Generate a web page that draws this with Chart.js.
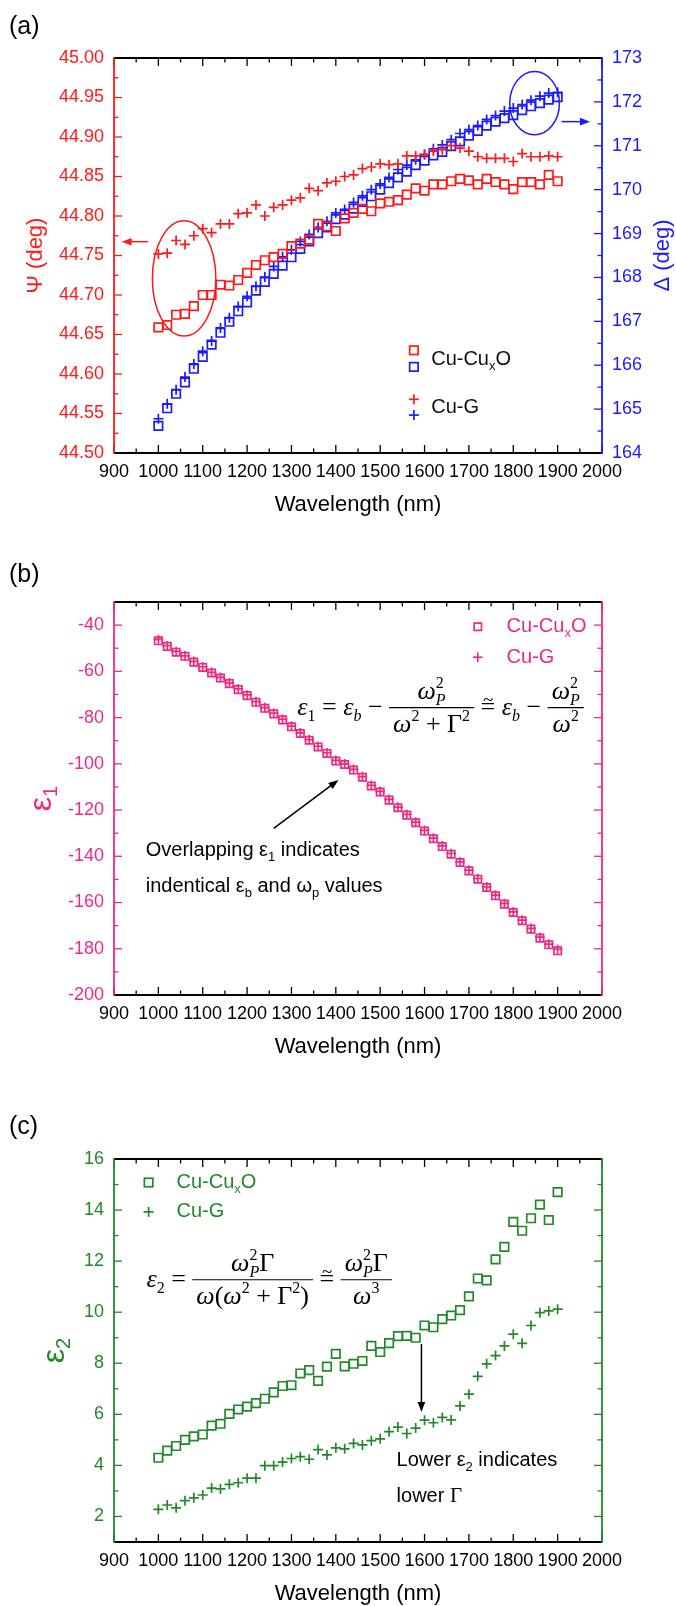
<!DOCTYPE html>
<html lang="en">
<head>
  <meta charset="UTF-8" />
  <title>Cu-CuxO vs Cu-G ellipsometry</title>
  <script src="https://cdn.jsdelivr.net/npm/chart.js"></script>
  <style>
    html, body {
      margin: 0;
      background: #fff;
    }

    body {
      position: relative;
      width: 676px;
      height: 1606px;
      overflow: hidden;
    }

    canvas {
      position: absolute;
      left: 0;
    }

    #chartA { top: 0; }
    #chartB { top: 540px; }
    #chartC { top: 1095px; }
  </style>
</head>
<body>
  <canvas id="chartA" width="676" height="540"></canvas>
  <canvas id="chartB" width="676" height="555"></canvas>
  <canvas id="chartC" width="676" height="511"></canvas>

  <script>
    // data
    const wavelengths = [1000, 1020, 1040, 1060, 1080, 1100, 1120, 1140, 1160, 1180,
      1200, 1220, 1240, 1260, 1280, 1300, 1320, 1340, 1360, 1380,
      1400, 1420, 1440, 1460, 1480, 1500, 1520, 1540, 1560, 1580,
      1600, 1620, 1640, 1660, 1680, 1700, 1720, 1740, 1760, 1780,
      1800, 1820, 1840, 1860, 1880, 1900];

    const psiCuO = [44.659, 44.662, 44.675, 44.676, 44.686, 44.700, 44.700, 44.713, 44.712, 44.719,
      44.728, 44.738, 44.744, 44.748, 44.752, 44.762, 44.765, 44.770, 44.790, 44.787,
      44.781, 44.797, 44.804, 44.809, 44.806, 44.816, 44.818, 44.820, 44.827, 44.835,
      44.832, 44.840, 44.840, 44.844, 44.847, 44.845, 44.840, 44.847, 44.843, 44.840,
      44.834, 44.843, 44.843, 44.840, 44.852, 44.844];
    const psiCuG = [44.752, 44.753, 44.769, 44.764, 44.775, 44.784, 44.779, 44.790, 44.790, 44.803,
      44.804, 44.814, 44.800, 44.811, 44.814, 44.820, 44.823, 44.835, 44.832, 44.842,
      44.844, 44.850, 44.852, 44.860, 44.862, 44.866, 44.865, 44.866, 44.876, 44.876,
      44.878, 44.882, 44.884, 44.889, 44.886, 44.882, 44.875, 44.873, 44.873, 44.873,
      44.869, 44.879, 44.875, 44.875, 44.876, 44.875];
    const deltaCuO = [164.62, 165.02, 165.35, 165.61, 165.92, 166.19, 166.47, 166.74, 166.99, 167.23,
      167.43, 167.70, 167.90, 168.08, 168.27, 168.46, 168.65, 168.82, 169.01, 169.14,
      169.33, 169.43, 169.57, 169.72, 169.85, 170.00, 170.15, 170.28, 170.41, 170.56,
      170.66, 170.78, 170.86, 170.99, 171.10, 171.23, 171.34, 171.46, 171.55, 171.63,
      171.70, 171.81, 171.90, 171.97, 172.05, 172.11];
    const deltaCuG = [164.78, 165.12, 165.44, 165.73, 166.03, 166.32, 166.55, 166.85, 167.08, 167.34,
      167.57, 167.80, 168.01, 168.25, 168.47, 168.63, 168.82, 168.98, 169.14, 169.28,
      169.47, 169.55, 169.71, 169.86, 170.00, 170.13, 170.28, 170.46, 170.56, 170.68,
      170.80, 170.93, 171.02, 171.14, 171.28, 171.37, 171.46, 171.60, 171.69, 171.79,
      171.86, 171.94, 172.04, 172.13, 172.20, 172.22];

    const eps1CuO = [-46.8, -49.2, -51.7, -53.5, -56.0, -58.3, -60.7, -62.9, -65.3, -67.9,
      -70.5, -73.4, -76.0, -78.4, -81.0, -84.0, -86.9, -89.8, -92.7, -95.5,
      -98.8, -100.3, -102.7, -105.8, -109.6, -112.2, -115.7, -119.0, -122.2, -125.5,
      -129.1, -132.4, -135.8, -139.1, -142.7, -146.3, -149.9, -153.5, -157.1, -160.7,
      -164.3, -167.9, -171.5, -175.4, -178.3, -180.9];
    const eps1CuG = [-46.2, -48.9, -51.4, -53.3, -55.7, -58.0, -60.4, -62.6, -65.0, -67.6,
      -70.2, -73.1, -75.7, -78.1, -80.7, -83.7, -86.6, -89.5, -92.4, -95.2,
      -98.5, -100.0, -102.4, -105.5, -109.3, -111.9, -115.4, -118.7, -121.9, -125.2,
      -128.8, -132.1, -135.5, -138.8, -142.4, -146.0, -149.6, -153.2, -156.8, -160.4,
      -164.0, -167.6, -171.2, -175.0, -178.0, -180.2];

    const eps2CuO = [4.30, 4.58, 4.76, 5.00, 5.14, 5.21, 5.56, 5.63, 6.02, 6.19,
      6.30, 6.44, 6.61, 6.86, 7.11, 7.14, 7.60, 7.73, 7.31, 7.87,
      8.37, 7.88, 7.98, 8.09, 8.68, 8.44, 8.79, 9.06, 9.07, 9.00,
      9.48, 9.41, 9.73, 9.87, 10.08, 10.62, 11.32, 11.25, 12.07, 12.56,
      13.54, 13.19, 13.68, 14.21, 13.61, 14.70];
    const eps2CuG = [2.28, 2.45, 2.34, 2.62, 2.73, 2.84, 3.11, 3.08, 3.26, 3.32,
      3.50, 3.50, 3.99, 3.99, 4.13, 4.27, 4.34, 4.24, 4.62, 4.41,
      4.69, 4.65, 4.86, 4.80, 4.97, 5.04, 5.32, 5.50, 5.25, 5.46,
      5.77, 5.67, 5.88, 5.78, 6.33, 6.79, 7.49, 7.98, 8.30, 8.68,
      9.14, 8.78, 9.48, 9.98, 10.05, 10.12];

    // ticks
    const xTicks = [900, 1000, 1100, 1200, 1300, 1400, 1500, 1600, 1700, 1800, 1900, 2000];
    const xMinor = [950, 1050, 1150, 1250, 1350, 1450, 1550, 1650, 1750, 1850, 1950];
    const psiTicks = [44.50, 44.55, 44.60, 44.65, 44.70, 44.75, 44.80, 44.85, 44.90, 44.95, 45.00];
    const psiMinor = [44.525, 44.575, 44.625, 44.675, 44.725, 44.775, 44.825, 44.875, 44.925, 44.975];
    const deltaTicks = [164, 165, 166, 167, 168, 169, 170, 171, 172, 173];
    const deltaMinor = [164.5, 165.5, 166.5, 167.5, 168.5, 169.5, 170.5, 171.5, 172.5];
    const eps1Ticks = [-200, -180, -160, -140, -120, -100, -80, -60, -40];
    const eps1Minor = [-190, -170, -150, -130, -110, -90, -70, -50];
    const eps2Ticks = [2, 4, 6, 8, 10, 12, 14, 16];
    const eps2Minor = [3, 5, 7, 9, 11, 13, 15];

    const SANS = '"Liberation Sans", Arial, sans-serif';
    const SERIF = '"Liberation Serif", "Times New Roman", "DejaVu Serif", serif';
    const RED = '#ff1a1a', BLUE = '#1a1aff', PINK = '#ee2a7f', GREEN = '#22882a';

    function pts(ys) {
      return wavelengths.map((x, i) => ({ x: x, y: ys[i] }));
    }

    function series(label, ys, color, style, radius, axis) {
      return {
        label: label,
        data: pts(ys),
        yAxisID: axis,
        showLine: false,
        pointStyle: style,
        pointRadius: radius,
        pointHoverRadius: radius,
        borderColor: color,
        backgroundColor: 'rgba(0,0,0,0)',
        pointBorderWidth: 1.7,
        borderWidth: 1.7
      };
    }

    function line(ctx, x1, y1, x2, y2) {
      ctx.beginPath();
      ctx.moveTo(x1, y1);
      ctx.lineTo(x2, y2);
      ctx.stroke();
    }

    function arrow(ctx, x1, y1, x2, y2, color) {
      const a = Math.atan2(y2 - y1, x2 - x1), c = Math.cos(a), s = Math.sin(a);
      const L = 10, W = 3.8;
      ctx.strokeStyle = color;
      ctx.fillStyle = color;
      ctx.lineWidth = 1.5;
      line(ctx, x1, y1, x2 - c * L * 0.7, y2 - s * L * 0.7);
      ctx.beginPath();
      ctx.moveTo(x2, y2);
      ctx.lineTo(x2 - L * c + W * s, y2 - L * s - W * c);
      ctx.lineTo(x2 - L * c - W * s, y2 - L * s + W * c);
      ctx.closePath();
      ctx.fill();
    }

    function marker(ctx, style, x, y, r, color) {
      ctx.strokeStyle = color;
      ctx.lineWidth = 1.7;
      if (style === 'rect') {
        const h = r * Math.SQRT1_2;
        ctx.strokeRect(x - h, y - h, 2 * h, 2 * h);
      } else {
        line(ctx, x - r, y, x + r, y);
        line(ctx, x, y - r, x, y + r);
      }
    }

    // text runs: {t, f, dy, dx, adv}, or {frac: {num, den}}
    function measure(ctx, list) {
      let w = 0;
      for (const r of list) {
        if (r.frac) { w += fracWidth(ctx, r.frac); continue; }
        if (r.adv === false) continue;
        ctx.font = r.f;
        w += ctx.measureText(r.t).width;
      }
      return w;
    }

    function fracWidth(ctx, fr) {
      return Math.max(measure(ctx, fr.num), measure(ctx, fr.den)) + 8;
    }

    function drawRuns(ctx, x, y, list) {
      for (const r of list) {
        if (r.frac) {
          const w = fracWidth(ctx, r.frac), bar = y - 7;
          ctx.lineWidth = 1.2;
          ctx.strokeStyle = ctx.fillStyle;
          line(ctx, x, bar, x + w, bar);
          drawRuns(ctx, x + (w - measure(ctx, r.frac.num)) / 2, bar - 9, r.frac.num);
          drawRuns(ctx, x + (w - measure(ctx, r.frac.den)) / 2, bar + 24, r.frac.den);
          x += w;
          continue;
        }
        ctx.font = r.f;
        ctx.fillText(r.t, x + (r.dx || 0), y + (r.dy || 0));
        if (r.adv !== false) x += ctx.measureText(r.t).width;
      }
      return x;
    }

    function rotated(ctx, x, y, list, color) {
      ctx.save();
      ctx.translate(x, y);
      ctx.rotate(-Math.PI / 2);
      ctx.fillStyle = color;
      ctx.textAlign = 'left';
      ctx.textBaseline = 'alphabetic';
      drawRuns(ctx, -measure(ctx, list) / 2, 0, list);
      ctx.restore();
    }

    function legendText(ctx, x, y, main, color) {
      ctx.fillStyle = color;
      ctx.textAlign = 'left';
      ctx.textBaseline = 'middle';
      const f = '20px ' + SANS, fs = '13px ' + SANS;
      if (main === 'Cu-CuxO') {
        drawRuns(ctx, x, y, [{ t: 'Cu-Cu', f: f }, { t: 'x', f: fs, dy: 7 }, { t: 'O', f: f }]);
      } else {
        drawRuns(ctx, x, y, [{ t: main, f: f }]);
      }
    }

    function drawFrame(chart, cfg) {
      const ctx = chart.ctx, a = chart.chartArea, xs = chart.scales.x;
      const sides = [[cfg.left, chart.scales[cfg.left.axis], a.left, 1],
                     [cfg.right, chart.scales[cfg.right.axis], a.right, -1]];
      ctx.save();
      ctx.lineWidth = 1.3;
      ctx.strokeStyle = '#000';
      xTicks.forEach(v => {
        const p = xs.getPixelForValue(v);
        line(ctx, p, a.bottom, p, a.bottom - 8);
        line(ctx, p, a.top, p, a.top + 8);
      });
      xMinor.forEach(v => {
        const p = xs.getPixelForValue(v);
        line(ctx, p, a.bottom, p, a.bottom - 4.5);
        line(ctx, p, a.top, p, a.top + 4.5);
      });
      sides.forEach(([s, sc, x0, dir]) => {
        ctx.strokeStyle = s.color;
        s.major.forEach(v => { const p = sc.getPixelForValue(v); line(ctx, x0, p, x0 + dir * 8, p); });
        s.minor.forEach(v => { const p = sc.getPixelForValue(v); line(ctx, x0, p, x0 + dir * 4.5, p); });
      });

      ctx.lineWidth = 1.8;
      ctx.strokeStyle = '#000';
      line(ctx, a.left, a.top, a.right, a.top);
      line(ctx, a.left, a.bottom, a.right, a.bottom);
      ctx.strokeStyle = cfg.left.color;
      line(ctx, a.left, a.top - 0.9, a.left, a.bottom + 0.9);
      ctx.strokeStyle = cfg.right.color;
      line(ctx, a.right, a.top - 0.9, a.right, a.bottom + 0.9);

      ctx.font = '18px ' + SANS;
      ctx.textBaseline = 'middle';
      ctx.textAlign = 'center';
      ctx.fillStyle = '#000';
      xTicks.forEach(v => ctx.fillText(String(v), xs.getPixelForValue(v), a.bottom + 19));
      sides.forEach(([s, sc, x0, dir]) => {
        if (!s.fmt) return;
        ctx.fillStyle = s.color;
        ctx.textAlign = dir > 0 ? 'right' : 'left';
        s.major.forEach(v => ctx.fillText(s.fmt(v), x0 - dir * 10, sc.getPixelForValue(v)));
      });

      ctx.fillStyle = '#000';
      ctx.textAlign = 'center';
      ctx.font = '22px ' + SANS;
      ctx.fillText('Wavelength (nm)', (a.left + a.right) / 2, a.bottom + 52);
      ctx.textAlign = 'left';
      ctx.font = '25px ' + SANS;
      ctx.fillText(cfg.letter, 9, cfg.letterY);
      ctx.restore();
    }

    function baseOptions(padding, yScales) {
      return {
        responsive: false,
        animation: false,
        events: [],
        layout: { padding: padding },
        plugins: { legend: { display: false }, tooltip: { enabled: false } },
        scales: Object.assign({ x: { type: 'linear', display: false, min: 900, max: 2000 } }, yScales)
      };
    }

    // serif formula pieces
    const F = 26;
    const fIt = 'italic ' + F + 'px ' + SERIF, fUp = F + 'px ' + SERIF;
    const fSm = '16px ' + SERIF, fSmIt = 'italic 16px ' + SERIF;
    const omegaP2 = [{ t: 'ω', f: fIt }, { t: '2', f: fSm, dy: -11, adv: false }, { t: 'P', f: fSmIt, dy: 6 }];
    const sq = { t: '2', f: fSm, dy: -11 };
    // "≅" built from a tilde over an equals sign, thin like the Times glyph
    const approxEq = [{ t: ' ', f: fUp }, { t: '~', f: '19px ' + SERIF, dy: -9, dx: 2.5, adv: false },
      { t: '=', f: fUp }, { t: ' ', f: fUp }];

    // ---------- (a) ----------
    new Chart(document.getElementById('chartA'), {
      type: 'scatter',
      data: {
        datasets: [
          series('Cu-CuxO Ψ', psiCuO, RED, 'rect', 6, 'yL'),
          series('Cu-G Ψ', psiCuG, RED, 'cross', 5, 'yL'),
          series('Cu-CuxO Δ', deltaCuO, BLUE, 'rect', 6, 'yR'),
          series('Cu-G Δ', deltaCuG, BLUE, 'cross', 5, 'yR')
        ]
      },
      options: baseOptions({ left: 114, right: 74, top: 58, bottom: 87 }, {
        yL: { type: 'linear', display: false, position: 'left', min: 44.5, max: 45.0 },
        yR: { type: 'linear', display: false, position: 'right', min: 164, max: 173 }
      }),
      plugins: [{
        id: 'panelA',
        afterDraw(chart) {
          drawFrame(chart, {
            left: { axis: 'yL', color: RED, major: psiTicks, minor: psiMinor, fmt: v => v.toFixed(2) },
            right: { axis: 'yR', color: BLUE, major: deltaTicks, minor: deltaMinor, fmt: v => String(v) },
            letter: '(a)', letterY: 27
          });
          const ctx = chart.ctx, a = chart.chartArea, xs = chart.scales.x;
          const yl = chart.scales.yL, yr = chart.scales.yR;
          const mid = (a.top + a.bottom) / 2;
          ctx.save();
          rotated(ctx, 42, mid, [{ t: 'Ψ (deg)', f: '22px ' + SANS }], RED);
          rotated(ctx, 669, mid, [{ t: 'Δ (deg)', f: '22px ' + SANS }], BLUE);

          const mx = xs.getPixelForValue(1576), tx = xs.getPixelForValue(1615);
          marker(ctx, 'rect', mx, yl.getPixelForValue(44.630), 6, RED);
          marker(ctx, 'rect', mx, yl.getPixelForValue(44.609), 6, BLUE);
          marker(ctx, 'cross', mx, yl.getPixelForValue(44.568), 5, RED);
          marker(ctx, 'cross', mx, yl.getPixelForValue(44.548), 5, BLUE);
          legendText(ctx, tx, yl.getPixelForValue(44.619), 'Cu-CuxO', '#111');
          legendText(ctx, tx, yl.getPixelForValue(44.558), 'Cu-G', '#111');

          ctx.lineWidth = 1.5;
          ctx.strokeStyle = RED;
          ctx.beginPath();
          ctx.ellipse(xs.getPixelForValue(1058), yl.getPixelForValue(44.721),
            xs.getPixelForValue(1129.5) - xs.getPixelForValue(1058),
            yl.getPixelForValue(44.648) - yl.getPixelForValue(44.721), 0, 0, Math.PI * 2);
          ctx.stroke();
          arrow(ctx, xs.getPixelForValue(977), yl.getPixelForValue(44.7675),
            xs.getPixelForValue(917), yl.getPixelForValue(44.7675), RED);

          ctx.lineWidth = 1.5;
          ctx.strokeStyle = BLUE;
          ctx.beginPath();
          ctx.ellipse(xs.getPixelForValue(1848), yr.getPixelForValue(171.97),
            xs.getPixelForValue(1904) - xs.getPixelForValue(1848),
            yr.getPixelForValue(171.25) - yr.getPixelForValue(171.97), 0, 0, Math.PI * 2);
          ctx.stroke();
          arrow(ctx, xs.getPixelForValue(1909), yr.getPixelForValue(171.55),
            xs.getPixelForValue(1973), yr.getPixelForValue(171.55), BLUE);
          ctx.restore();
        }
      }]
    });

    // ---------- (b) ----------
    new Chart(document.getElementById('chartB'), {
      type: 'scatter',
      data: {
        datasets: [
          series('Cu-CuxO', eps1CuO, PINK, 'rect', 5.2, 'y'),
          series('Cu-G', eps1CuG, PINK, 'cross', 4.8, 'y')
        ]
      },
      options: baseOptions({ left: 114, right: 74, top: 62, bottom: 100 }, {
        y: { type: 'linear', display: false, min: -200, max: -30 }
      }),
      plugins: [{
        id: 'panelB',
        afterDraw(chart) {
          drawFrame(chart, {
            left: { axis: 'y', color: PINK, major: eps1Ticks, minor: eps1Minor, fmt: v => String(v) },
            right: { axis: 'y', color: PINK, major: eps1Ticks, minor: eps1Minor, fmt: null },
            letter: '(b)', letterY: 35
          });
          const ctx = chart.ctx, a = chart.chartArea, xs = chart.scales.x, ys = chart.scales.y;
          ctx.save();
          rotated(ctx, 51, (a.top + a.bottom) / 2,
            [{ t: 'ε', f: '32px ' + SANS }, { t: '1', f: '20px ' + SANS, dy: 6 }], PINK);

          const mx = xs.getPixelForValue(1720), tx = xs.getPixelForValue(1785);
          marker(ctx, 'rect', mx, ys.getPixelForValue(-40.7), 5.2, PINK);
          marker(ctx, 'cross', mx, ys.getPixelForValue(-53.9), 4.8, PINK);
          legendText(ctx, tx, ys.getPixelForValue(-40.7), 'Cu-CuxO', PINK);
          legendText(ctx, tx, ys.getPixelForValue(-53.9), 'Cu-G', PINK);

          ctx.fillStyle = '#000';
          ctx.textAlign = 'left';
          ctx.textBaseline = 'alphabetic';
          drawRuns(ctx, xs.getPixelForValue(1313), ys.getPixelForValue(-75.7) + 7, [
            { t: 'ε', f: fIt }, { t: '1', f: fSm, dy: 6 }, { t: ' = ', f: fUp },
            { t: 'ε', f: fIt }, { t: 'b', f: fSmIt, dy: 6 }, { t: ' − ', f: fUp },
            { frac: { num: omegaP2, den: [{ t: 'ω', f: fIt }, sq, { t: ' + ', f: fUp }, { t: 'Γ', f: fUp }, sq] } }
          ].concat(approxEq, [
            { t: 'ε', f: fIt }, { t: 'b', f: fSmIt, dy: 6 }, { t: ' − ', f: fUp },
            { frac: { num: omegaP2, den: [{ t: 'ω', f: fIt }, sq] } }
          ]));

          arrow(ctx, xs.getPixelForValue(1260), ys.getPixelForValue(-127.9),
            xs.getPixelForValue(1406), ys.getPixelForValue(-107.0), '#000');

          const f = '20px ' + SANS, fs = '13px ' + SANS;
          ctx.fillStyle = '#000';
          ctx.textBaseline = 'middle';
          const tl = xs.getPixelForValue(971.5);
          drawRuns(ctx, tl, ys.getPixelForValue(-137.3), [
            { t: 'Overlapping ', f: f }, { t: 'ε', f: f }, { t: '1', f: fs, dy: 7 }, { t: ' indicates', f: f }
          ]);
          drawRuns(ctx, tl, ys.getPixelForValue(-153.1), [
            { t: 'indentical ', f: f }, { t: 'ε', f: f }, { t: 'b', f: fs, dy: 7 }, { t: ' and ', f: f },
            { t: 'ω', f: f }, { t: 'p', f: fs, dy: 7 }, { t: ' values', f: f }
          ]);
          ctx.restore();
        }
      }]
    });

    // ---------- (c) ----------
    new Chart(document.getElementById('chartC'), {
      type: 'scatter',
      data: {
        datasets: [
          series('Cu-CuxO', eps2CuO, GREEN, 'rect', 6, 'y'),
          series('Cu-G', eps2CuG, GREEN, 'cross', 5, 'y')
        ]
      },
      options: baseOptions({ left: 114, right: 74, top: 64, bottom: 64 }, {
        y: { type: 'linear', display: false, min: 1, max: 16 }
      }),
      plugins: [{
        id: 'panelC',
        afterDraw(chart) {
          drawFrame(chart, {
            left: { axis: 'y', color: GREEN, major: eps2Ticks, minor: eps2Minor, fmt: v => String(v) },
            right: { axis: 'y', color: GREEN, major: eps2Ticks, minor: eps2Minor, fmt: null },
            letter: '(c)', letterY: 32
          });
          const ctx = chart.ctx, a = chart.chartArea, xs = chart.scales.x, ys = chart.scales.y;
          ctx.save();
          rotated(ctx, 64, (a.top + a.bottom) / 2,
            [{ t: 'ε', f: '32px ' + SANS }, { t: '2', f: '20px ' + SANS, dy: 6 }], GREEN);

          const mx = xs.getPixelForValue(978), tx = xs.getPixelForValue(1041);
          marker(ctx, 'rect', mx, ys.getPixelForValue(15.08), 6, GREEN);
          marker(ctx, 'cross', mx, ys.getPixelForValue(13.93), 5, GREEN);
          legendText(ctx, tx, ys.getPixelForValue(15.08), 'Cu-CuxO', GREEN);
          legendText(ctx, tx, ys.getPixelForValue(13.93), 'Cu-G', GREEN);

          const numG = omegaP2.concat([{ t: 'Γ', f: fUp }]);
          ctx.fillStyle = '#000';
          ctx.textAlign = 'left';
          ctx.textBaseline = 'alphabetic';
          drawRuns(ctx, xs.getPixelForValue(973), ys.getPixelForValue(11.27) + 7, [
            { t: 'ε', f: fIt }, { t: '2', f: fSm, dy: 6 }, { t: ' = ', f: fUp },
            { frac: { num: numG, den: [{ t: 'ω', f: fIt }, { t: '(', f: fUp }, { t: 'ω', f: fIt }, sq,
              { t: ' + ', f: fUp }, { t: 'Γ', f: fUp }, sq, { t: ')', f: fUp }] } }
          ].concat(approxEq, [
            { frac: { num: numG, den: [{ t: 'ω', f: fIt }, { t: '3', f: fSm, dy: -11 }] } }
          ]));

          arrow(ctx, xs.getPixelForValue(1593), ys.getPixelForValue(8.75),
            xs.getPixelForValue(1593), ys.getPixelForValue(6.09), '#000');

          const f = '20px ' + SANS, fs = '13px ' + SANS;
          ctx.fillStyle = '#000';
          ctx.textBaseline = 'middle';
          const tl = xs.getPixelForValue(1537);
          drawRuns(ctx, tl, ys.getPixelForValue(4.20), [
            { t: 'Lower ', f: f }, { t: 'ε', f: f }, { t: '2', f: fs, dy: 7 }, { t: ' indicates', f: f }
          ]);
          drawRuns(ctx, tl, ys.getPixelForValue(2.80), [
            { t: 'lower ', f: f }, { t: 'Γ', f: '21px ' + SERIF }
          ]);
          ctx.restore();
        }
      }]
    });
  </script>
</body>
</html>
